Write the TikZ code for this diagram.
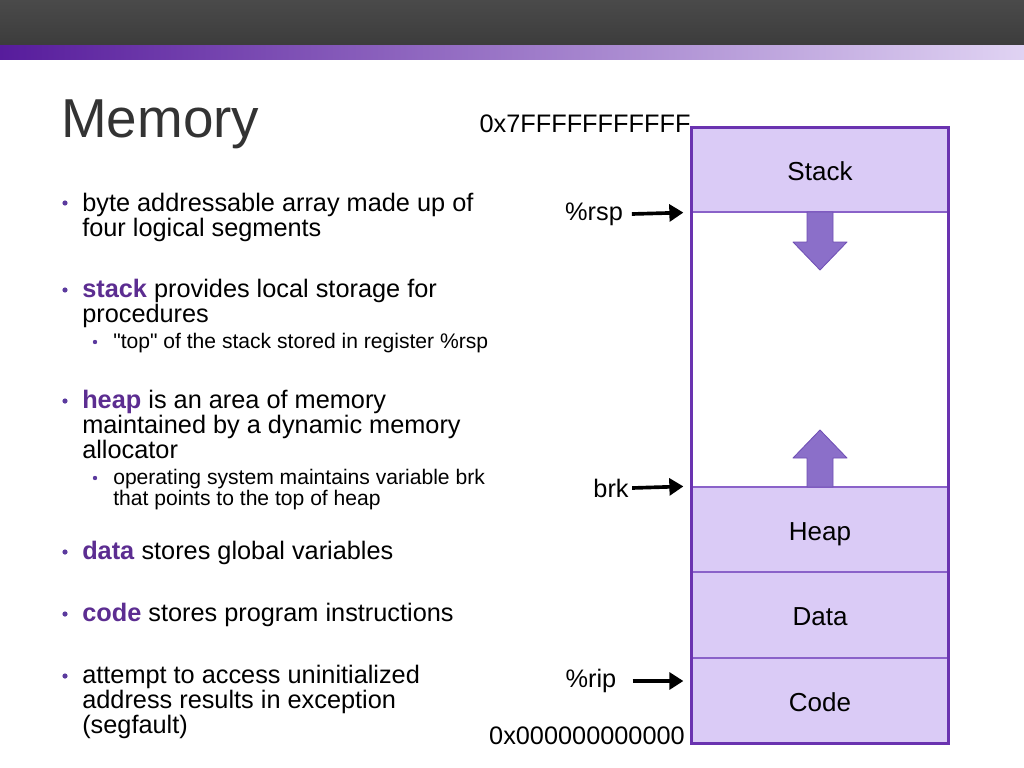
\documentclass[tikz,border=0pt]{standalone}
\usepackage{fontspec}
\setmainfont{Liberation Sans}
\usetikzlibrary{arrows.meta, positioning, calc}
\definecolor{memdark}{HTML}{3C3C3C}
\definecolor{memdarktop}{HTML}{4A4A4A}
\definecolor{memtitle}{HTML}{333333}
\definecolor{mempurple}{HTML}{5C2D91}
\definecolor{memstripl}{HTML}{571C9C}
\definecolor{memstripm}{HTML}{B994E4}
\definecolor{memstripr}{HTML}{E0D3F3}
\definecolor{memedge}{HTML}{6A33B0}
\definecolor{memline}{HTML}{8A62C9}
\definecolor{memsegl}{HTML}{DACBF6}
\definecolor{memsegm}{HTML}{C3ACEE}
\definecolor{memgrow}{HTML}{8B6FC9}
\definecolor{memgrowdark}{HTML}{6F4FB5}
\definecolor{membullet}{HTML}{5B3A9E}
\newcommand{\kw}[1]{\textcolor{mempurple}{\textbf{#1}}}

\begin{document}
\begin{tikzpicture}[
  x=0.025cm, y=-0.025cm,
  body/.style={anchor=north west, inner sep=0pt, align=left, font=\fontsize{18}{17.8}\selectfont},
  sub/.style={anchor=north west, inner sep=0pt, align=left, font=\fontsize{15}{14.9}\selectfont},
  dot/.style={circle, fill=membullet, inner sep=0pt, minimum size=0.13cm},
  subdot/.style={circle, fill=membullet, inner sep=0pt, minimum size=0.11cm},
  seg/.style={draw=memline, line width=0.8pt, left color=memsegl, middle color=memsegm, right color=memsegl, shading angle=90,
    minimum width=6.4cm, inner sep=0pt, text height=19pt, text depth=4pt, font=\fontsize{18.5}{18.5}\selectfont},
  addr/.style={inner sep=0pt, font=\fontsize{18}{18}\selectfont},
  ptr/.style={-{Triangle[length=10pt, width=12pt]}, line width=2.6pt, black},
  growarrow/.style={fill=memgrow, draw=memgrowdark, line width=0.6pt, line join=round}
]
% slide frame
\fill[white] (0,0) rectangle (1024,768);
\shade[top color=memdarktop, bottom color=memdark] (0,0) rectangle (1024,46);
\shade[left color=memstripl, middle color=memstripm, right color=memstripr] (0,46) rectangle (1024,60);
\node[anchor=base west, inner sep=0pt, text=memtitle, font=\fontsize{39}{39}\selectfont] (title) at (61,138) {Memory};

% bullets
\node[dot] (d1) at (65,203) {};
\node[body] (b1) at (82,193) {byte addressable array made up of\\four logical segments};
\node[dot] (d2) at (65,290) {};
\node[body] (b2) at (82,279) {\kw{stack} provides local storage for\\procedures};
\node[subdot] (s2) at (95,342) {};
\node[sub] (t2) at (113,333) {\textquotedbl top\textquotedbl{} of the stack stored in register \%rsp};
\node[dot] (d3) at (65,401) {};
\node[body] (b3) at (82,390) {\kw{heap} is an area of memory\\maintained by a dynamic memory\\allocator};
\node[subdot] (s3) at (95,478) {};
\node[sub] (t3) at (113,469) {operating system maintains variable brk\\that points to the top of heap};
\node[dot] (d4) at (65,552) {};
\node[body] (b4) at (82,541) {\kw{data} stores global variables};
\node[dot] (d5) at (65,614) {};
\node[body] (b5) at (82,603) {\kw{code} stores program instructions};
\node[dot] (d6) at (65,676) {};
\node[body] (b6) at (82,665) {attempt to access uninitialized\\address results in exception\\(segfault)};

% memory column
\node[seg, minimum height=2.1cm] (stack) at (820,170) {Stack};
\node[seg, minimum height=2.125cm] (heap) at (820,529.5) {Heap};
\node[seg, minimum height=2.15cm] (data) at (820,615) {Data};
\node[seg, minimum height=2.125cm] (code) at (820,700.5) {Code};
\draw[memedge, line width=1.6pt] (stack.north west) rectangle (code.south east);

% growth arrows
\filldraw[growarrow] (807,212) -- (833,212) -- (833,242) -- (847,242) -- (820,270) -- (793,242) -- (807,242) -- cycle;
\filldraw[growarrow] (807,487) -- (833,487) -- (833,458) -- (847,458) -- (820,430) -- (793,458) -- (807,458) -- cycle;

% addresses and pointers
\node[addr] (top) at (585,124) {0x7FFFFFFFFFFF};
\node[addr] (bottom) at (587,736) {0x000000000000};
\node[addr] (rsp) at (594,214) {\%rsp};
\node[addr] (brk) at (611,488) {brk};
\node[addr] (rip) at (591,681) {\%rip};
\coordinate (rspend) at ($(stack.south west)+(-0.2cm,0)$);
\coordinate (brkend) at ($(heap.north west)+(-0.2cm,0)$);
\coordinate (ripend) at ($(code.west |- rip.east)+(-0.2cm,0)$);
\draw[ptr] ($(rsp.east)+(0.22cm,0)$) -- (rspend);
\draw[ptr] ($(brk.east)+(0.08cm,0)$) -- (brkend);
\draw[ptr] ($(rip.east)+(0.4cm,0)$) -- (ripend);
\end{tikzpicture}
\end{document}
